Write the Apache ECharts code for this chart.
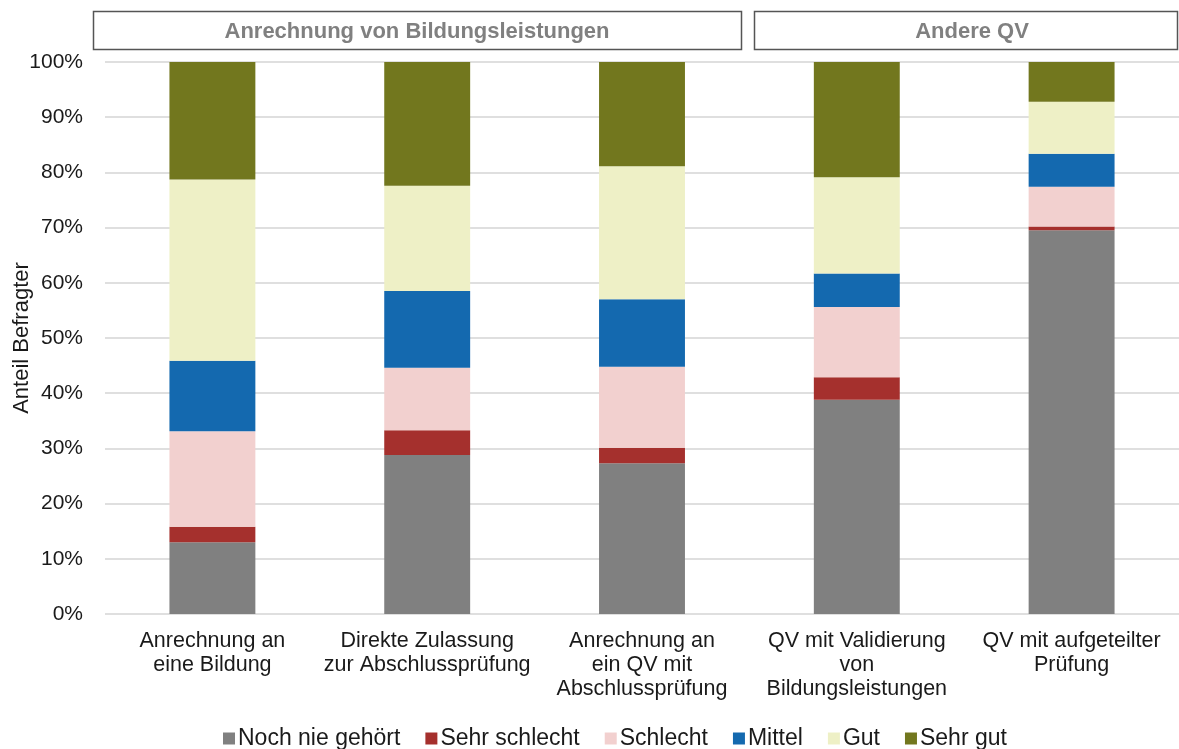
<!DOCTYPE html>
<html><head><meta charset="utf-8">
<script src="https://cdn.jsdelivr.net/npm/echarts@6/dist/echarts.min.js"></script>
<style>html,body{margin:0;padding:0;background:#fff}#c{width:1179px;height:749px}</style>
</head><body><div id="c"></div>
<script>
const categories = [
  "Anrechnung an\neine Bildung",
  "Direkte Zulassung\nzur Abschlussprüfung",
  "Anrechnung an\nein QV mit\nAbschlussprüfung",
  "QV mit Validierung\nvon\nBildungsleistungen",
  "QV mit aufgeteilter\nPrüfung"
];
const seriesNames = ["Noch nie gehört","Sehr schlecht","Schlecht","Mittel","Gut","Sehr gut"];
const nochNie     = [13.0, 28.8, 27.3, 38.8, 69.5];
const sehrSchlecht= [2.8, 4.5, 2.8, 4.1, 0.7];
const schlecht    = [17.3, 11.3, 14.7, 12.7, 7.2];
const mittel      = [12.8, 13.9, 12.2, 6.1, 6.0];
const gut         = [32.8, 19.1, 24.1, 17.4, 9.4];
const sehrGut     = [21.3, 22.4, 18.9, 20.9, 7.2];
const groupLabels = ["Anrechnung von Bildungsleistungen", "Andere QV"];
const colors = ["#808080","#A5302D","#F2D0CF","#1469AF","#EEF0C6","#72771E"];
const values = [nochNie, sehrSchlecht, schlecht, mittel, gut, sehrGut];

const chart = echarts.init(document.getElementById('c'));
const font = "'Liberation Sans', Arial, sans-serif";
chart.setOption({
  animation: false,
  textStyle: {fontFamily: font},
  grid: {left: 105, right: 0, top: 62, bottom: 135, containLabel: false, outerBoundsMode: 'none'},
  xAxis: {
    type: 'category', data: categories,
    axisLine: {show: false}, axisTick: {show: false},
    axisLabel: {color: '#1a1a1a', fontSize: 21.5, lineHeight: 24, margin: 15, interval: 0, fontFamily: font}
  },
  yAxis: {
    type: 'value', min: 0, max: 100, interval: 10,
    name: 'Anteil Befragter', nameLocation: 'middle', nameGap: 72, nameMoveOverlap: false,
    nameTextStyle: {color: '#1a1a1a', fontSize: 22, fontFamily: font},
    axisLabel: {formatter: '{value}%', color: '#1a1a1a', fontSize: 21, margin: 22, fontFamily: font},
    splitLine: {lineStyle: {color: '#d4d4d4', width: 1.5}},
    axisLine: {show: false}, axisTick: {show: false}
  },
  legend: {
    top: 722, left: 218, itemWidth: 12, itemHeight: 12, itemGap: 25,
    icon: 'rect',
    textStyle: {color: '#1a1a1a', fontSize: 23, fontFamily: font, padding: [0,0,0,-2]},
    data: seriesNames
  },
  series: seriesNames.map((n, i) => ({
    name: n, type: 'bar', stack: 'all', barWidth: '40%',
    data: values[i],
    itemStyle: {color: colors[i]}
  })),
  graphic: [
    {type: 'rect', shape: {x: 93.5, y: 11.5, width: 648, height: 38}, style: {fill: '#fff', stroke: '#555', lineWidth: 1.5}},
    {type: 'text', x: 417, y: 32, style: {text: groupLabels[0], fill: '#808080', font: 'bold 22px ' + font, textAlign: 'center', textVerticalAlign: 'middle'}},
    {type: 'rect', shape: {x: 754.5, y: 11.5, width: 423, height: 38}, style: {fill: '#fff', stroke: '#555', lineWidth: 1.5}},
    {type: 'text', x: 972, y: 32, style: {text: groupLabels[1], fill: '#808080', font: 'bold 22px ' + font, textAlign: 'center', textVerticalAlign: 'middle'}}
  ]
});
</script></body></html>
